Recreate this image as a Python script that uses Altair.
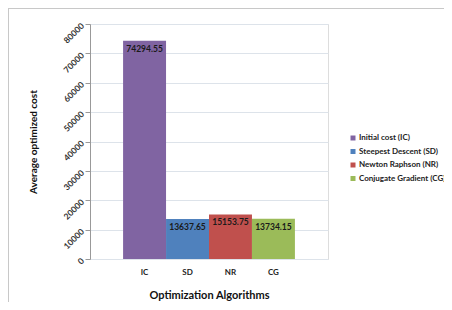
import altair as alt
import pandas as pd

codes = ["IC", "SD", "NR", "CG"]
names = ["Initial cost (IC)", "Steepest Descent (SD)", "Newton Raphson (NR)", "Conjugate Gradient (CG)"]
values = [74294.55, 13637.65, 15153.75, 13734.15]
colors = ["#8064A2", "#4F81BD", "#C0504D", "#9BBB59"]
y_ticks = [0, 10000, 20000, 30000, 40000, 50000, 60000, 70000, 80000]

df = pd.DataFrame({"code": codes, "name": names, "value": values,
                   "label": [f"{v:.2f}" for v in values]})

FONT = "Lato"

x = alt.X("code:N", sort=codes, title="Optimization Algorithms",
          scale=alt.Scale(paddingInner=0, paddingOuter=0.77),
          axis=alt.Axis(labelAngle=0, labelFont=FONT, labelFontWeight="bold", labelFontSize=8,
                        labelColor="#222", labelPadding=9, ticks=False, domain=False,
                        titleFont=FONT, titleFontSize=11, titleFontWeight="bold",
                        titleColor="#111", titlePadding=13))

y = alt.Y("value:Q", title="Average optimized cost",
          scale=alt.Scale(domain=[0, 80000], nice=False),
          axis=alt.Axis(values=y_ticks, tickCount=9, format="d", labelAngle=-45, labelAlign="right",
                        labelBaseline="middle", labelFont=FONT, labelFontWeight="bold",
                        labelFontSize=8.5, labelColor="#333", labelPadding=3,
                        labelOverlap=False, tickSize=5, tickColor="#999", domainColor="#999",
                        gridColor="#dde3ea", titleFont=FONT, titleFontSize=10,
                        titleFontWeight="bold", titleColor="#111", titleX=-52))

bars = alt.Chart(df).mark_bar().encode(
    x=x, y=y,
    color=alt.Color("name:N", sort=names,
                    scale=alt.Scale(domain=names, range=colors),
                    legend=alt.Legend(title=None, orient="none", legendX=259, legendY=110,
                                      symbolType="square", symbolSize=25, symbolStrokeWidth=0,
                                      labelFont=FONT, labelFontSize=8, labelFontWeight="bold",
                                      labelColor="#222", rowPadding=5.5, labelOffset=2,
                                      labelLimit=200))
)

texts = alt.Chart(df).mark_text(baseline="middle", dy=8, font=FONT, fontSize=8.5,
                                fontWeight="bold", color="#1a1a1a").encode(
    x=x, y=y, text="label:N")

frame_top = alt.Chart(df).mark_rule(color="#c8c8c8", strokeWidth=1, clip=False).encode(
    x=alt.value(-81), x2=alt.value(360), y=alt.value(-15.5))
frame_left = alt.Chart(df).mark_rule(color="#c8c8c8", strokeWidth=1, clip=False).encode(
    x=alt.value(-81.5), y=alt.value(-16), y2=alt.value(290))

chart = alt.layer(bars, texts, frame_top, frame_left).properties(
    width=238, height=235,
    padding={"left": 82, "top": 16, "right": 116, "bottom": 43},
    autosize=alt.AutoSizeParams(type="none"),
).configure_view(stroke=None).configure(background="white")

chart.save("out.html", embed_options={"renderer": "svg", "actions": False})
